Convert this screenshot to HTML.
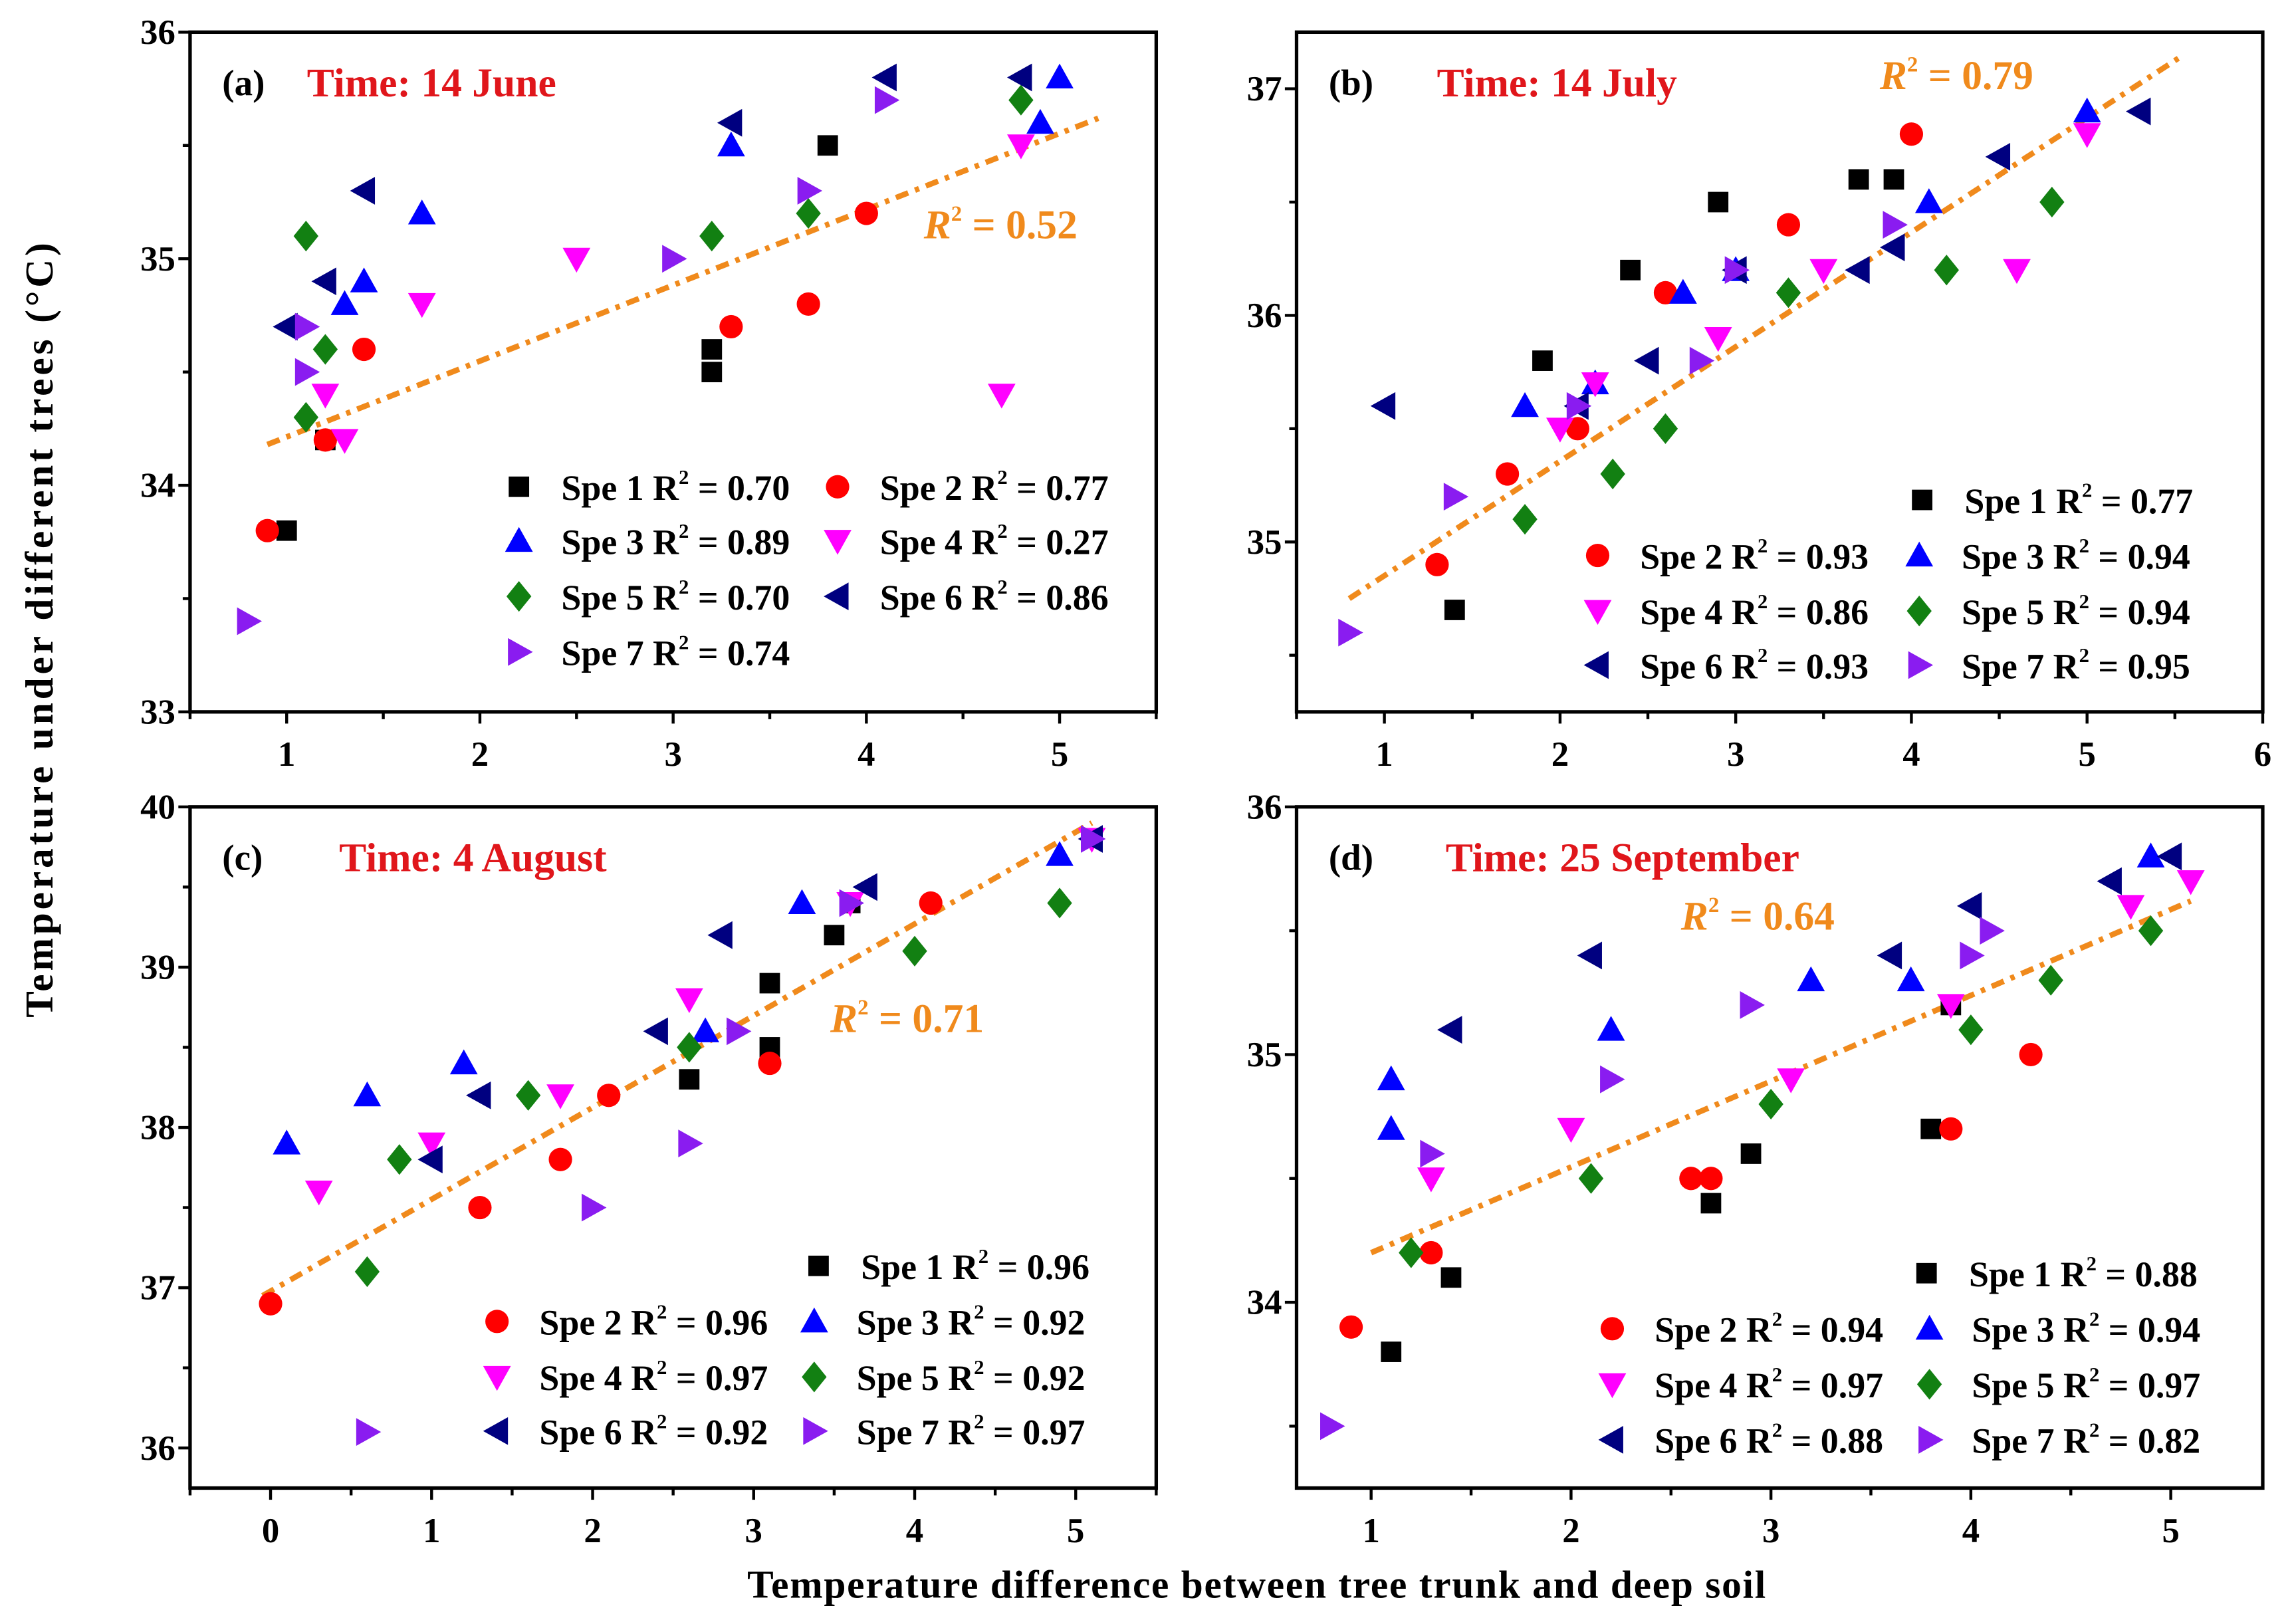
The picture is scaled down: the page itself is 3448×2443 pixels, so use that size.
<!DOCTYPE html>
<html><head><meta charset="utf-8"><style>
html,body{margin:0;padding:0;background:#fff;}
svg{display:block;}
text{font-family:"Liberation Serif",serif;font-weight:bold;}
</style></head><body>
<svg id="fig" width="3448" height="2443" viewBox="0 0 1568 1111" xmlns="http://www.w3.org/2000/svg">
<rect width="1568" height="1111" fill="#fff"/>
<text transform="translate(36,430) rotate(-90)" text-anchor="middle" font-size="27" letter-spacing="2.2">Temperature under different trees (°C)</text>
<text x="860" y="1093" text-anchor="middle" font-size="27" letter-spacing="0.8">Temperature difference between tree trunk and deep soil</text>
</svg>
<script>
// ---- Panel (a) data ----
const a_spe1=[[1.0,33.8],[1.2,34.2],[3.2,34.5],[3.2,34.6],[3.8,35.5]];
const a_spe2=[[0.9,33.8],[1.2,34.2],[1.4,34.6],[3.3,34.7],[3.7,34.8],[4.0,35.2]];
const a_spe3=[[1.3,34.8],[1.4,34.9],[1.7,35.2],[3.3,35.5],[4.9,35.6],[5.0,35.8]];
const a_spe4=[[1.2,34.4],[1.3,34.2],[1.7,34.8],[2.5,35.0],[4.7,34.4],[4.8,35.5]];
const a_spe5=[[1.1,34.3],[1.1,35.1],[1.2,34.6],[3.2,35.1],[3.7,35.2],[4.8,35.7]];
const a_spe6=[[1.0,34.7],[1.2,34.9],[1.4,35.3],[3.3,35.6],[4.1,35.8],[4.8,35.8]];
const a_spe7=[[0.8,33.4],[1.1,34.5],[1.1,34.7],[3.0,35.0],[3.7,35.3],[4.1,35.7]];
const a_trend=[[0.9,34.18],[5.2,35.62]];
const a_r2=["0.70","0.77","0.89","0.27","0.70","0.86","0.74"];
// ---- Panel (b) data ----
const b_spe1=[[1.4,34.7],[1.9,35.8],[2.4,36.2],[2.9,36.5],[3.7,36.6],[3.9,36.6]];
const b_spe2=[[1.3,34.9],[1.7,35.3],[2.1,35.5],[2.6,36.1],[3.3,36.4],[4.0,36.8]];
const b_spe3=[[1.8,35.6],[2.2,35.7],[2.7,36.1],[3.0,36.2],[4.1,36.5],[5.0,36.9]];
const b_spe4=[[2.0,35.5],[2.2,35.7],[2.9,35.9],[3.5,36.2],[4.6,36.2],[5.0,36.8]];
const b_spe5=[[1.8,35.1],[2.3,35.3],[2.6,35.5],[3.3,36.1],[4.2,36.2],[4.8,36.5]];
const b_spe6=[[1.0,35.6],[2.1,35.6],[2.5,35.8],[3.0,36.2],[3.7,36.2],[3.9,36.3],[4.5,36.7],[5.3,36.9]];
const b_spe7=[[0.8,34.6],[1.4,35.2],[2.1,35.6],[2.8,35.8],[3.0,36.2],[3.9,36.4]];
const b_trend=[[0.8,34.75],[5.55,37.15]];
const b_r2=["0.77","0.93","0.94","0.86","0.94","0.93","0.95"];
// ---- Panel (c) data ----
const c_spe1=[[2.6,38.3],[3.1,38.5],[3.1,38.9],[3.5,39.2],[3.6,39.4]];
const c_spe2=[[0.0,36.9],[1.3,37.5],[1.8,37.8],[2.1,38.2],[3.1,38.4],[4.1,39.4]];
const c_spe3=[[0.1,37.9],[0.6,38.2],[1.2,38.4],[2.7,38.6],[3.3,39.4],[4.9,39.7]];
const c_spe4=[[0.3,37.6],[1.0,37.9],[1.8,38.2],[2.6,38.8],[3.6,39.4],[5.1,39.8]];
const c_spe5=[[0.6,37.1],[0.8,37.8],[1.6,38.2],[2.6,38.5],[4.0,39.1],[4.9,39.4]];
const c_spe6=[[1.0,37.8],[1.3,38.2],[2.4,38.6],[2.8,39.2],[3.7,39.5],[5.1,39.8]];
const c_spe7=[[0.6,36.1],[2.0,37.5],[2.6,37.9],[2.9,38.6],[3.6,39.4],[5.1,39.8]];
const c_trend=[[-0.05,36.95],[5.1,39.9]];
const c_r2=["0.96","0.96","0.92","0.97","0.92","0.92","0.97"];
// ---- Panel (d) data ----
const d_spe1=[[1.1,33.8],[1.4,34.1],[2.7,34.4],[2.9,34.6],[3.8,34.7],[3.9,35.2]];
const d_spe2=[[0.9,33.9],[1.3,34.2],[2.6,34.5],[2.7,34.5],[3.9,34.7],[4.3,35.0]];
const d_spe3=[[1.1,34.7],[1.1,34.9],[2.2,35.1],[3.2,35.3],[3.7,35.3],[4.9,35.8]];
const d_spe4=[[1.3,34.5],[2.0,34.7],[3.1,34.9],[3.9,35.2],[4.8,35.6],[5.1,35.7]];
const d_spe5=[[1.2,34.2],[2.1,34.5],[3.0,34.8],[4.0,35.1],[4.4,35.3],[4.9,35.5]];
const d_spe6=[[1.4,35.1],[2.1,35.4],[3.6,35.4],[4.0,35.6],[4.7,35.7],[5.0,35.8]];
const d_spe7=[[0.8,33.5],[1.3,34.6],[2.2,34.9],[2.9,35.2],[4.0,35.4],[4.1,35.5]];
const d_trend=[[1.0,34.2],[5.1,35.62]];
const d_r2=["0.88","0.94","0.94","0.97","0.97","0.88","0.82"];
// tick labels
const a_xticks=[1,2,3,4,5], a_yticks=[33,34,35,36];
const b_xticks=[1,2,3,4,5,6], b_yticks=[35,36,37];
const c_xticks=[0,1,2,3,4,5], c_yticks=[36,37,38,39,40];
const d_xticks=[1,2,3,4,5], d_yticks=[34,35,36];

const NS="http://www.w3.org/2000/svg";
const svg=document.getElementById('fig');
const COLORS=["#000000","#ff0000","#0000ff","#ff00ff","#128012","#000080","#8a1cf0"];
const SHAPES=["square","circle","up","down","diamond","left","right"];
function mk(tag,attrs,parent){const e=document.createElementNS(NS,tag);for(const k in attrs)e.setAttribute(k,attrs[k]);(parent||svg).appendChild(e);return e;}
function marker(g,shape,cx,cy,color){
  const s=8.5;let e;
  if(shape==="square")e=mk('rect',{x:cx-7,y:cy-7,width:14,height:14,fill:color},g);
  else if(shape==="circle")e=mk('circle',{cx:cx,cy:cy,r:8,fill:color},g);
  else{let p;
    if(shape==="up")p=[[cx,cy-s-1],[cx-s-1,cy+s-1],[cx+s+1,cy+s-1]];
    if(shape==="down")p=[[cx,cy+s+1],[cx-s-1,cy-s+1],[cx+s+1,cy-s+1]];
    if(shape==="left")p=[[cx-s-1,cy],[cx+s-1,cy-s-1],[cx+s-1,cy+s+1]];
    if(shape==="right")p=[[cx+s+1,cy],[cx-s+1,cy-s-1],[cx-s+1,cy+s+1]];
    if(shape==="diamond")p=[[cx,cy-s-2],[cx+s,cy],[cx,cy+s+2],[cx-s,cy]];
    e=mk('polygon',{points:p.map(q=>q.join(',')).join(' '),fill:color},g);}
  return e;
}
function panel(cfg){
  const g=mk('g',{});
  
  
  const X=v=>cfg.L+(v-cfg.xmin)/(cfg.xmax-cfg.xmin)*(cfg.R-cfg.L);
  const Y=v=>cfg.B-(v-cfg.ymin)/(cfg.ymax-cfg.ymin)*(cfg.B-cfg.T);
  const fr=mk('rect',{x:cfg.L,y:cfg.T,width:cfg.R-cfg.L,height:cfg.B-cfg.T,fill:'none',stroke:'#000','stroke-width':2.4},g);
  
  
  for(let v=Math.ceil(cfg.xmin*2)/2;v<=cfg.xmax+1e-9;v+=0.5){
    const major=Math.abs(v-Math.round(v))<1e-9;
    mk('line',{x1:X(v),x2:X(v),y1:cfg.B,y2:cfg.B+(major?8:5),stroke:'#000','stroke-width':2},g);
  }
  cfg.xt.forEach(v=>{const t=mk('text',{x:X(v),y:cfg.B+37,'text-anchor':'middle','font-size':24},g);t.textContent=v;
    
    });
  for(let v=Math.ceil(cfg.ymin*2)/2;v<=cfg.ymax+1e-9;v+=0.5){
    const major=Math.abs(v-Math.round(v))<1e-9;
    mk('line',{x1:cfg.L-(major?8:5),x2:cfg.L,y1:Y(v),y2:Y(v),stroke:'#000','stroke-width':2},g);
  }
  cfg.yt.forEach(v=>{const t=mk('text',{x:cfg.L-10,y:Y(v)+8,'text-anchor':'end','font-size':24},g);t.textContent=v;
    
    });
  const tl=mk('line',{x1:X(cfg.trend[0][0]),y1:Y(cfg.trend[0][1]),x2:X(cfg.trend[1][0]),y2:Y(cfg.trend[1][1]),stroke:'#f08a1c','stroke-width':3.8,'stroke-dasharray':'9,5,3,5'},g);
  
  
  cfg.series.forEach((s,i)=>{s.forEach(p=>{
    const m=marker(g,SHAPES[i],X(p[0]),Y(p[1]),COLORS[i]);
    
    
  });});
  const lab=mk('text',{x:cfg.L+22,y:cfg.T+43,'font-size':25},g);lab.textContent='('+cfg.id+')';
  
  
  const ti=mk('text',{x:cfg.titleX,y:cfg.T+44,'font-size':28,fill:'#e0161b'},g);ti.textContent=cfg.title;
  
  
  const r=mk('text',{x:cfg.r2x,y:cfg.r2y,'font-size':28,fill:'#f08a1c'},g);
  r.innerHTML='<tspan font-style="italic">R</tspan><tspan font-size="15" dy="-12">2</tspan><tspan dy="12"> = '+cfg.r2+'</tspan>';
  
  
  cfg.legend.forEach((pos,i)=>{
    const lg=mk('g',{},g);
    
    
    marker(lg,SHAPES[i],pos[0],pos[1],COLORS[i]);
    const t=mk('text',{x:pos[0]+29,y:pos[1]+9,'font-size':24.5},lg);
    t.innerHTML='Spe '+(i+1)+' R<tspan font-size="14" dy="-11">2</tspan><tspan dy="11"> = '+cfg.r2s[i]+'</tspan>';
  });
}
panel({id:'a',L:130,R:791,T:22,B:487,xmin:0.5,xmax:5.5,ymin:33,ymax:36,xt:a_xticks,yt:a_yticks,
  series:[a_spe1,a_spe2,a_spe3,a_spe4,a_spe5,a_spe6,a_spe7],trend:a_trend,r2:'0.52',r2x:632,r2y:163,
  title:'Time: 14 June',titleX:210,r2s:a_r2,
  legend:[[355,333],[573,333],[355,370],[573,370],[355,408],[573,408],[355,446]]});
panel({id:'b',L:887,R:1548,T:22,B:487,xmin:0.5,xmax:6,ymin:34.25,ymax:37.25,xt:b_xticks,yt:b_yticks,
  series:[b_spe1,b_spe2,b_spe3,b_spe4,b_spe5,b_spe6,b_spe7],trend:b_trend,r2:'0.79',r2x:1286,r2y:61,
  title:'Time: 14 July',titleX:983,r2s:b_r2,
  legend:[[1315,342],[1093,380],[1313,380],[1093,418],[1313,418],[1093,455],[1313,455]]});
panel({id:'c',L:130,R:791,T:552,B:1018,xmin:-0.5,xmax:5.5,ymin:35.75,ymax:40,xt:c_xticks,yt:c_yticks,
  series:[c_spe1,c_spe2,c_spe3,c_spe4,c_spe5,c_spe6,c_spe7],trend:c_trend,r2:'0.71',r2x:568,r2y:706,
  title:'Time: 4 August',titleX:232,r2s:c_r2,
  legend:[[560,866],[340,904],[557,904],[340,942],[557,942],[340,979],[557,979]]});
panel({id:'d',L:887,R:1548,T:552,B:1018,xmin:0.627,xmax:5.46,ymin:33.25,ymax:36,xt:d_xticks,yt:d_yticks,
  series:[d_spe1,d_spe2,d_spe3,d_spe4,d_spe5,d_spe6,d_spe7],trend:d_trend,r2:'0.64',r2x:1150,r2y:636,
  title:'Time: 25 September',titleX:989,r2s:d_r2,
  legend:[[1318,871],[1103,909],[1320,909],[1103,947],[1320,947],[1103,985],[1320,985]]});
</script>
</body></html>
